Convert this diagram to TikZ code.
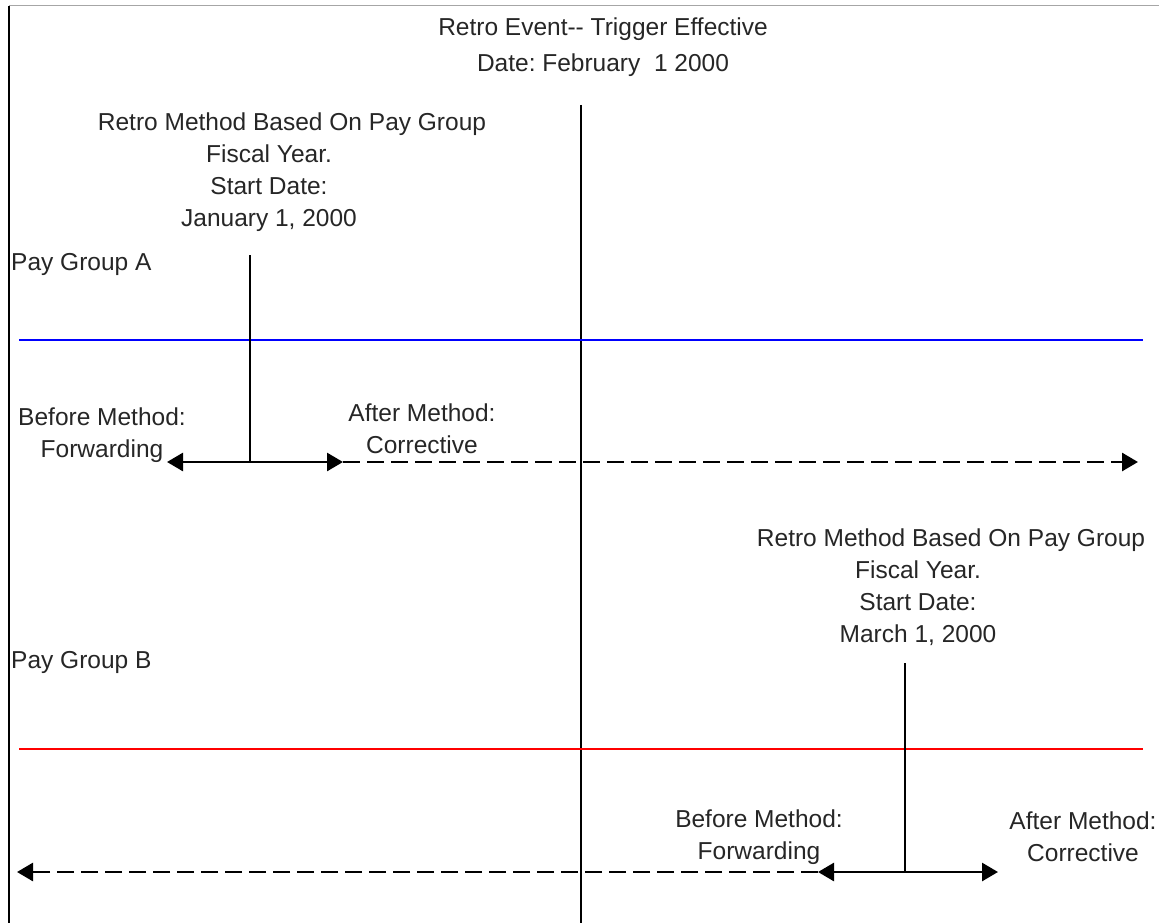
\documentclass[tikz,border=0pt]{standalone}
\usepackage{fontspec}
\setmainfont{Liberation Sans}
\usetikzlibrary{positioning, arrows.meta}
\frenchspacing

\begin{document}
\begin{tikzpicture}[x=1pt, y=-1pt,
    lbl/.style={font=\fontsize{24.5}{32}\selectfont, text=black!85, inner sep=0pt, align=center, anchor=north},
    axis/.style={line width=2.8pt},
    flow/.style={line width=2.8pt, dash pattern=on 17pt off 7pt},
    group/.style={line width=2.4pt},
    >={Triangle[length=16pt, width=18pt]}
]
\useasboundingbox (0,0) rectangle (1159,923);

% frame
\coordinate (topL) at (9,6);
\coordinate (topR) at (1159,6);
\coordinate (botL) at (9,923);
\draw[gray!70, line width=1pt] (topL) -- (topR);
\draw[line width=1.3pt] (topL) -- (botL);

% retro event
\node[lbl, font=\fontsize{24.5}{36}\selectfont] (title) at (603,17.5) {Retro Event-{}- Trigger Effective\\Date: February\ \ 1 2000};
\coordinate (evtTop) at (581,105);
\coordinate (evtBot) at (581,923);
\draw[axis] (evtTop) -- (evtBot);

% pay group A
\node[lbl, anchor=north west] (grpA) at (11,253) {Pay Group A};
\node[lbl] (noteA) at (292,112.5) {Retro Method Based On Pay Group\\\mbox{Fiscal Year.\hspace{46pt}}\\\mbox{Start Date:\hspace{46pt}}\\\mbox{January 1, 2000\hspace{46pt}}};
\coordinate (aL) at (19,340);
\coordinate (aR) at (1143,340);
\draw[group, blue] (aL) -- (aR);

\coordinate (aTickTop) at (250,255);
\coordinate (aTickBot) at (250,462);
\coordinate (aBefore) at (167,462);
\coordinate (aAfter) at (343,462);
\coordinate (aEnd) at (1138,462);
\draw[axis] (aTickTop) -- (aTickBot);
\draw[axis, ->] (aTickBot) -- (aBefore);
\draw[axis, ->] (aTickBot) -- (aAfter);
\draw[flow, ->] (aAfter) -- (aEnd);
\node[lbl] (beforeA) at (102,408) {Before Method:\\Forwarding};
\node[lbl] (afterA) at (422,404) {After Method:\\Corrective};

% pay group B
\node[lbl, anchor=north west] (grpB) at (11,651) {Pay Group B};
\node[lbl] (noteB) at (951,529) {Retro Method Based On Pay Group\\\mbox{Fiscal Year.\hspace{66pt}}\\\mbox{Start Date:\hspace{66pt}}\\\mbox{March 1, 2000\hspace{66pt}}};
\coordinate (bL) at (19,749);
\coordinate (bR) at (1143,749);
\draw[group, red] (bL) -- (bR);

\coordinate (bTickTop) at (905,663);
\coordinate (bTickBot) at (905,872);
\coordinate (bBefore) at (818,872);
\coordinate (bAfter) at (998,872);
\coordinate (bEnd) at (17,872);
\draw[axis] (bTickTop) -- (bTickBot);
\draw[axis, ->] (bTickBot) -- (bBefore);
\draw[axis, ->] (bTickBot) -- (bAfter);
\draw[flow, ->] (bBefore) -- (bEnd);
\node[lbl] (beforeB) at (759,810) {Before Method:\\Forwarding};
\node[lbl] (afterB) at (1083,812) {After Method:\\Corrective};
\end{tikzpicture}
\end{document}
